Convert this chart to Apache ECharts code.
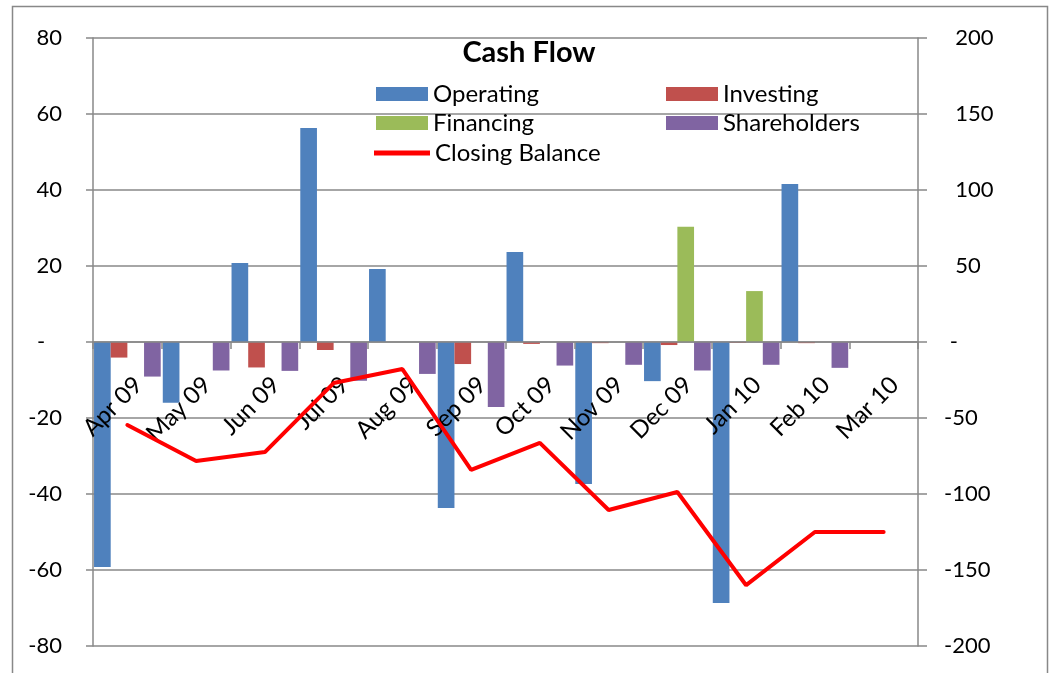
<!DOCTYPE html>
<html>
<head>
<meta charset="UTF-8">
<title>Cash Flow</title>
<script src="https://cdn.jsdelivr.net/npm/echarts@6/dist/echarts.min.js"></script>
<style>
  html, body { margin: 0; padding: 0; background: #fff; }
  #main { width: 1049px; height: 673px; }
</style>
</head>
<body>
<div id="main"></div>
<script>
// months on the category axis
var months = ['Apr 09', 'May 09', 'Jun 09', 'Jul 09', 'Aug 09', 'Sep 09',
              'Oct 09', 'Nov 09', 'Dec 09', 'Jan 10', 'Feb 10', 'Mar 10'];
// bar series (left axis)
var operating    = [-59.2, -16.0, 20.8, 56.3, 19.2, -43.7, 23.7, -37.4, -10.3, -68.7, 41.6, 0];
var investing    = [-4.1, 0, -6.7, -2.1, 0, -5.8, -0.5, -0.3, -0.8, -0.2, -0.3, 0];
var financing    = [0, 0, 0, 0, 0, 0, 0, 0, 30.3, 13.4, 0, 0];
var shareholders = [-9.1, -7.5, -7.6, -10.2, -8.4, -17.1, -6.2, -6.0, -7.5, -6.0, -6.8, 0];
// line series (right axis)
var closingBalance = [-54.6, -78.3, -72.4, -27, -17.8, -84.2, -66.4, -110.5, -98.7, -160, -125, -125];

var FONT = 'Lato, "Open Sans", sans-serif';
var GRAY = '#888888';

var chart = echarts.init(document.getElementById('main'));

function legendAt(name, left, top, isLine) {
    return {
        data: [{ name: name, icon: 'rect' }],
        left: left,
        top: top,
        padding: 0,
        itemWidth: isLine ? 56 : 52,
        itemHeight: isLine ? 5 : 14,
        itemGap: 0,
        selectedMode: false,
        textStyle: { fontFamily: FONT, fontSize: 24, color: '#000', lineHeight: 24 }
    };
}

function bar(name, data, color) {
    return {
        name: name,
        type: 'bar',
        data: data,
        yAxisIndex: 0,
        barGap: '0%',
        barCategoryGap: '3%',
        z: 2,
        itemStyle: { color: color }
    };
}

var option = {
    backgroundColor: '#ffffff',
    animation: false,
    title: {
        text: 'Cash Flow',
        left: 524,
        top: 33,
        textAlign: 'center',
        textStyle: { fontFamily: FONT, fontSize: 29, fontWeight: 'bold', color: '#000' }
    },
    legend: [
        legendAt('Operating', 376, 82),
        legendAt('Investing', 666, 82),
        legendAt('Financing', 376, 111),
        legendAt('Shareholders', 666, 111),
        legendAt('Closing Balance', 374, 141, true)
    ],
    graphic: [{
        type: 'rect',
        shape: { x: 12.5, y: 6.5, width: 1035, height: 690 },
        style: { fill: 'none', stroke: GRAY, lineWidth: 1.5 },
        silent: true
    }],
    grid: { left: 93, right: 131, top: 38, bottom: 27, containLabel: false, outerBoundsMode: 'none' },
    xAxis: {
        type: 'category',
        data: months,
        z: 3,
        position: 'bottom',
        offset: -304,
        axisLine: { onZero: false, lineStyle: { color: GRAY, width: 1.5 } },
        axisTick: { show: true, length: 7, lineStyle: { color: GRAY, width: 1.5 } },
        axisLabel: {
            interval: 0,
            rotate: 45,
            margin: 28,
            hideOverlap: false,
            // spacer line above each label pushes it down along its own axis
            formatter: function (v) { return '{s| }\n{t|' + v + '}'; },
            rich: {
                s: { fontSize: 10, lineHeight: 31 },
                t: { fontFamily: FONT, fontSize: 24, lineHeight: 24, color: '#000' }
            },
            fontFamily: FONT,
            fontSize: 24,
            color: '#000'
        },
        splitLine: { show: false }
    },
    yAxis: [{
        type: 'value',
        min: -80,
        max: 80,
        interval: 20,
        position: 'left',
        axisLine: { show: true, lineStyle: { color: GRAY, width: 1.5 } },
        axisTick: { show: true, length: 7, lineStyle: { color: GRAY, width: 1.5 } },
        splitLine: { show: true, lineStyle: { color: GRAY, width: 1.5 } },
        axisLabel: {
            margin: 31,
            fontFamily: FONT,
            fontSize: 22,
            color: '#000',
            formatter: function (v) { return v === 0 ? '-   ' : String(v); }
        }
    }, {
        type: 'value',
        min: -200,
        max: 200,
        interval: 50,
        position: 'right',
        axisLine: { show: true, lineStyle: { color: GRAY, width: 1.5 } },
        axisTick: { show: true, length: 9, lineStyle: { color: GRAY, width: 1.5 } },
        splitLine: { show: false },
        axisLabel: {
            margin: 26,
            fontFamily: FONT,
            fontSize: 22,
            color: '#000',
            formatter: function (v) { return v === 0 ? ' -' : (v > 0 ? '  ' + v : String(v)); }
        }
    }],
    series: [
        bar('Operating', operating, '#4F81BD'),
        bar('Investing', investing, '#C0504D'),
        bar('Financing', financing, '#9BBB59'),
        bar('Shareholders', shareholders, '#8064A2'),
        {
            name: 'Closing Balance',
            type: 'line',
            data: closingBalance,
            yAxisIndex: 1,
            symbol: 'none',
            z: 4,
            lineStyle: { color: '#FF0000', width: 4, cap: 'round' },
            itemStyle: { color: '#FF0000' }
        }
    ]
};

chart.setOption(option);
</script>
</body>
</html>
